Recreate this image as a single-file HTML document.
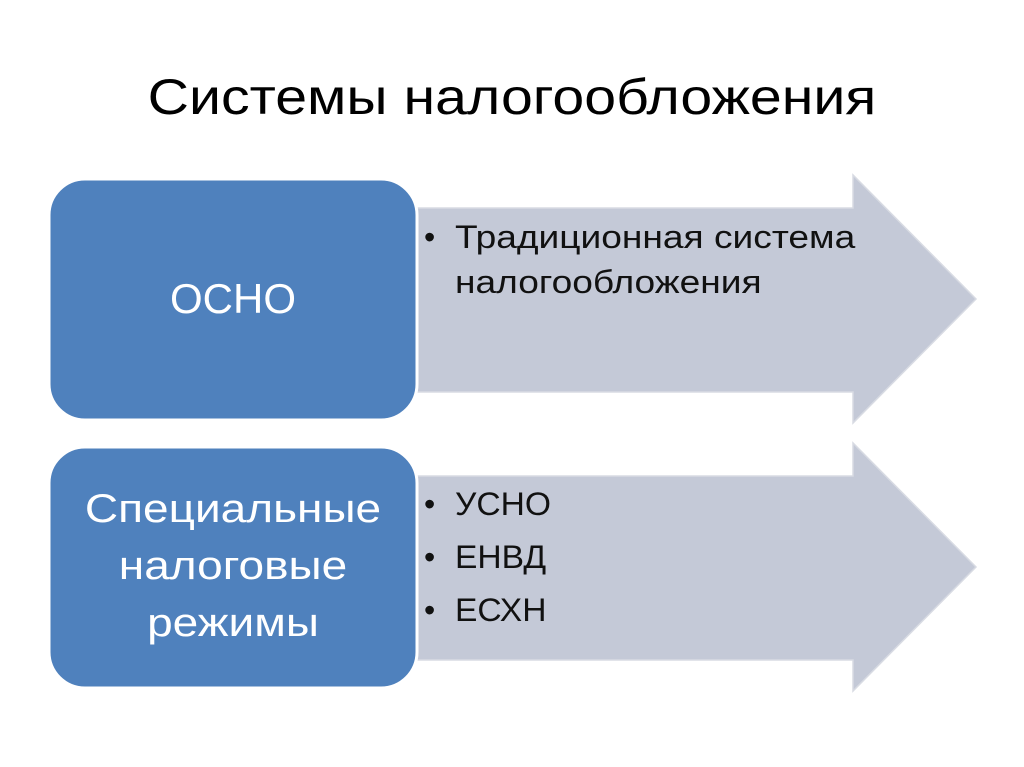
<!DOCTYPE html>
<html><head><meta charset="utf-8"><style>
body{margin:0;background:#fff;width:1024px;height:767px;overflow:hidden;position:relative;font-family:"Liberation Sans","DejaVu Sans",sans-serif}
.t{position:absolute;white-space:nowrap}
</style></head><body>
<div class="t" style="left:0;width:1024px;text-align:center;top:68px;font-size:50px;color:#000;transform:scaleX(1.145)">Системы налогообложения</div>
<svg width="1024" height="767" style="position:absolute;left:0;top:0">
<polygon points="400,208 853,208 853,175 976,299 853,423 853,392 400,392" fill="#c4c9d7" stroke="#d8dbe3" stroke-width="1.5"/>
<polygon points="400,476 853,476 853,443 976,567 853,691 853,660 400,660" fill="#c4c9d7" stroke="#d8dbe3" stroke-width="1.5"/>
<rect x="49" y="179" width="368" height="241" rx="36" fill="#4f81bd" stroke="#fff" stroke-width="3"/>
<rect x="49" y="447" width="368" height="241" rx="36" fill="#4f81bd" stroke="#fff" stroke-width="3"/>
</svg>
<div class="t" style="left:49px;width:368px;text-align:center;top:275px;font-size:42px;color:#fff">ОСНО</div>
<div class="t" style="left:49px;width:368px;text-align:center;top:481px;font-size:40px;line-height:57px;color:#fff;transform:scaleX(1.15)">Специальные<br>налоговые<br>режимы</div>
<div class="t" style="left:424px;top:215px;font-size:32px;line-height:45px;color:#111">•</div>
<div class="t" style="left:455px;top:215px;font-size:32px;line-height:45px;color:#111;transform:scaleX(1.16);transform-origin:0 0">Традиционная система<br>налогообложения</div>
<div class="t" style="left:424px;top:478px;font-size:32px;line-height:53px;color:#111">•<br>•<br>•</div>
<div class="t" style="left:455px;top:478px;font-size:32px;line-height:53px;color:#111;transform:scaleX(1.05);transform-origin:0 0">УСНО<br>ЕНВД<br>ЕСХН</div>
</body></html>
